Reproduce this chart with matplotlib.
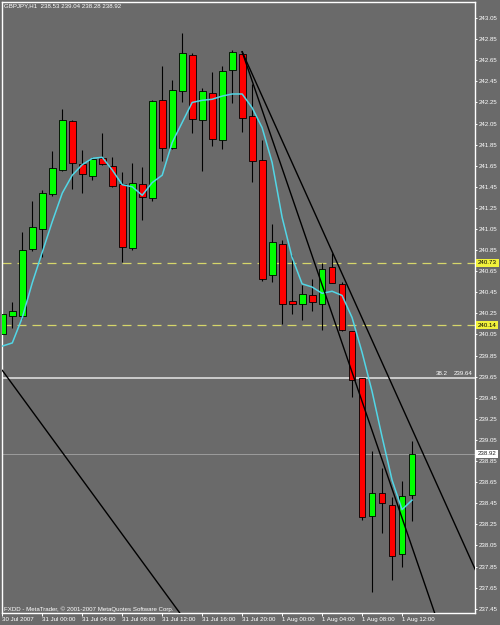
import numpy as np
import matplotlib
matplotlib.use("Agg")
import matplotlib.pyplot as plt

# -------------------------------
# Data: GBPJPY H1 candles, 30 Jul 20:00 -> 1 Aug 13:00 (2007)
# -------------------------------
opens = [240.05, 240.23, 240.23, 240.86, 241.05, 241.38, 241.61, 242.07, 241.67, 241.55,
         241.72, 241.65, 241.48, 240.87, 241.48, 241.34, 242.27, 241.82, 242.36, 242.70,
         242.08, 242.34, 241.89, 242.56, 242.71, 242.12, 241.70, 240.61, 240.91, 240.37,
         240.34, 240.42, 240.34, 240.69, 240.53, 240.08, 239.64, 238.33, 238.55, 238.43,
         237.97, 238.53]
highs = [240.40, 240.36, 241.02, 241.32, 241.42, 241.79, 242.19, 242.08, 241.80, 241.73,
         241.96, 241.73, 241.59, 241.68, 241.64, 242.27, 242.60, 242.46, 242.91, 242.72,
         242.39, 242.54, 242.60, 242.75, 242.74, 242.42, 241.89, 241.10, 240.95, 240.80,
         240.52, 240.58, 240.73, 240.82, 240.55, 240.08, 239.64, 238.95, 238.78, 238.51,
         238.66, 239.04]
lows = [239.76, 240.11, 240.20, 240.84, 240.78, 241.36, 241.60, 241.43, 241.39, 241.51,
        241.66, 241.45, 240.74, 240.85, 241.14, 241.32, 241.69, 241.81, 242.25, 241.96,
        241.60, 241.84, 241.81, 242.24, 241.97, 241.50, 240.56, 240.55, 240.15, 240.24,
        240.19, 240.27, 240.09, 240.54, 240.08, 239.46, 238.29, 237.61, 238.17, 237.72,
        237.85, 238.28]
closes = [240.24, 240.27, 240.85, 241.07, 241.39, 241.63, 242.08, 241.68, 241.57, 241.71,
          241.67, 241.46, 240.88, 241.49, 241.35, 242.26, 241.82, 242.37, 242.72, 242.09,
          242.36, 241.90, 242.55, 242.73, 242.10, 241.69, 240.58, 240.93, 240.34, 240.34,
          240.43, 240.36, 240.67, 240.54, 240.09, 239.62, 238.32, 238.55, 238.45, 237.95,
          238.52, 238.92]

# moving average (cyan)
ma = [239.94, 239.97, 240.21, 240.54, 240.83, 241.12, 241.39, 241.56, 241.66, 241.72,
      241.73, 241.61, 241.47, 241.45, 241.37, 241.49, 241.56, 241.87, 242.06, 242.25,
      242.27, 242.28, 242.31, 242.33, 242.33, 242.20, 242.01, 241.68, 241.16, 240.78,
      240.53, 240.50, 240.44, 240.46, 240.42, 240.21, 239.88, 239.51, 239.08, 238.67,
      238.39, 238.48]

time_ticks = [0, 4, 8, 12, 16, 20, 24, 28, 32, 36, 40]
time_labels = ["30 Jul 2007", "31 Jul 00:00", "31 Jul 04:00", "31 Jul 08:00",
               "31 Jul 12:00", "31 Jul 16:00", "31 Jul 20:00", "1 Aug 00:00",
               "1 Aug 04:00", "1 Aug 08:00", "1 Aug 12:00"]

price_ticks = np.round(np.arange(237.45, 243.10, 0.2), 2)

# horizontal levels
dashed_levels = [240.73, 240.14]
fib_level = 239.64
bid_level = 238.92

# trend lines: (bar, price) pairs
trend_lines = [
    ([24.0, 45.0], [242.73, 236.93]),
    ([24.0, 48.0], [242.73, 237.68]),
    ([0.0, 20.0], [239.71, 237.12]),
]

# -------------------------------
# Style
# -------------------------------
bg = "#6a6a6a"
fg = "white"
plt.rcParams["font.family"] = ["Liberation Sans", "DejaVu Sans"]
fs = 4.4

fig = plt.figure(figsize=(5, 6.25), dpi=100, facecolor=bg)
ax = fig.add_axes([2 / 500, 11.7 / 625, 473 / 500, 611.3 / 625])
ax.set_facecolor(bg)

x = np.arange(len(opens))
o = np.array(opens)
c = np.array(closes)
up = c >= o

# wicks
ax.vlines(x, lows, highs, color="black", lw=0.8, zorder=2)
# bodies
ax.bar(x[up], (c - o)[up], bottom=o[up], width=0.68, color="#00ff00",
       edgecolor="black", lw=0.6, zorder=3)
ax.bar(x[~up], (o - c)[~up], bottom=c[~up], width=0.68, color="#ff0000",
       edgecolor="black", lw=0.6, zorder=3)

# moving average
ax.plot(x, ma, color="#52d6e6", lw=1.1, zorder=4)

# levels
for lv in dashed_levels:
    ax.axhline(lv, color="#d6d66a", lw=0.9, dashes=(7.2, 4.8), zorder=1)
ax.axhline(fib_level, color="#e6e6e6", lw=1.1, zorder=1)
ax.axhline(bid_level, color="#9c9c9c", lw=0.7, zorder=1)

for xs, ys in trend_lines:
    ax.plot(xs, ys, color="black", lw=1.0, zorder=5)

ax.set_xlim(-0.03, 47.3)
ax.set_ylim(237.407, 243.202)

# axes frame
for sp in ax.spines.values():
    sp.set_color(fg)
    sp.set_linewidth(1.0)

ax.yaxis.tick_right()
ax.set_yticks(price_ticks)
ax.set_yticklabels([f"{p:.2f}" for p in price_ticks])
ax.tick_params(axis="y", colors=fg, labelsize=fs, length=1.6, width=0.7, pad=1)
ax.set_xticks(time_ticks)
ax.set_xticklabels(time_labels, ha="left")
ax.tick_params(axis="x", colors=fg, labelsize=fs, length=2.2, width=0.7, pad=0.8)

# highlighted price labels
for lv in dashed_levels:
    ax.annotate(f"{lv:.2f}", xy=(1, lv), xycoords=("axes fraction", "data"),
                xytext=(3, 0), textcoords="offset pixels", va="center", ha="left",
                fontsize=fs, color="black",
                bbox=dict(boxstyle="square,pad=0.25", fc="#f2f23c", ec="#f2f23c", lw=0))
ax.annotate(f"{bid_level:.2f}", xy=(1, bid_level), xycoords=("axes fraction", "data"),
            xytext=(3, 0), textcoords="offset pixels", va="center", ha="left",
            fontsize=fs, color="#202020",
            bbox=dict(boxstyle="square,pad=0.25", fc="white", ec="white", lw=0))

# fibo level texts
ax.annotate("38.2", xy=(1, fib_level), xycoords=("axes fraction", "data"),
            xytext=(-27, 2), textcoords="offset pixels", ha="right", va="bottom",
            fontsize=fs, color=fg)
ax.annotate(f"{fib_level:.2f}", xy=(1, fib_level), xycoords=("axes fraction", "data"),
            xytext=(-2, 2), textcoords="offset pixels", ha="right", va="bottom",
            fontsize=fs, color=fg)

# header / footer
fig.text(4 / 500, 1 - 3.5 / 625, "GBPJPY,H1  238.53 239.04 238.28 238.92",
         color=fg, fontsize=fs, ha="left", va="top")
fig.text(4 / 500, 1 - 611 / 625, "FXDD - MetaTrader, \u00a9 2001-2007 MetaQuotes Software Corp.",
         color=fg, fontsize=fs, ha="left", va="baseline")

fig.savefig("out.png", dpi=100, facecolor=bg)
plt.close(fig)
